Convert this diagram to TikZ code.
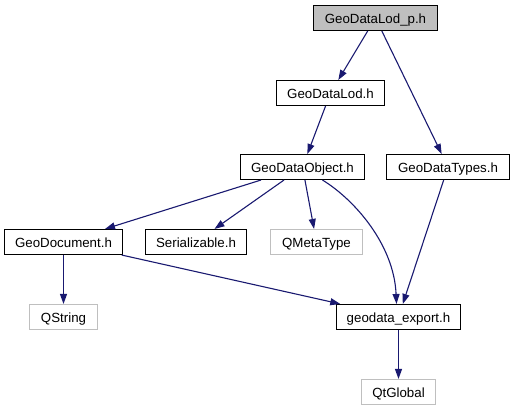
\documentclass[tikz,border=0pt]{standalone}
\usepackage{fontspec}
\setmainfont{Liberation Sans}
\usetikzlibrary{arrows.meta}
\definecolor{edgeblue}{RGB}{25,25,112}
\definecolor{lightborder}{RGB}{191,191,191}
\definecolor{topfill}{RGB}{191,191,191}
\tikzset{
  box/.style={draw=black, line width=1.1pt, fill=white, minimum height=25pt, inner sep=0pt,
    text height=10.5pt, text depth=0pt, font=\fontsize{13.3}{15}\selectfont},
  extbox/.style={box, draw=lightborder},
  topbox/.style={box, fill=topfill},
  dep/.style={draw=edgeblue, line width=1.1pt, -{Triangle[length=10pt,width=7pt]}, fill=none}
}
\begin{document}
\begin{tikzpicture}[x=1pt,y=-1pt]
\useasboundingbox (0,0) rectangle (515,411);
\node[topbox, minimum width=124pt] (lodp) at (375.5,18) {GeoDataLod\_p.h};
\node[box, minimum width=108pt] (lod) at (330.5,93) {GeoDataLod.h};
\node[box, minimum width=124pt] (obj) at (302.5,167) {GeoDataObject.h};
\node[box, minimum width=123pt] (types) at (448,167) {GeoDataTypes.h};
\node[box, minimum width=118pt] (doc) at (63.5,242) {GeoDocument.h};
\node[box, minimum width=101pt] (ser) at (196,242) {Serializable.h};
\node[extbox, minimum width=92pt] (qmeta) at (316.5,242) {QMetaType};
\node[extbox, minimum width=68pt] (qstring) at (63.5,317) {QString};
\node[box, minimum width=124pt] (export) at (398.5,317) {geodata\_export.h};
\node[extbox, minimum width=74pt] (qtglobal) at (398.5,392) {QtGlobal};

\draw[dep] (lodp) -- (lod);
\draw[dep] (lodp) -- (types);
\draw[dep] (lod) -- (obj);
\draw[dep] (obj) -- (doc);
\draw[dep] (obj) -- (ser);
\draw[dep] (obj) -- (qmeta);
\draw[dep] ([xshift=20pt]obj.south) .. controls (355,200) and (394,245) .. ([xshift=-2pt]export.north);
\draw[dep] (types) -- (export);
\draw[dep] (doc) -- (qstring);
\draw[dep] (doc) -- (export);
\draw[dep] (export) -- (qtglobal);
\end{tikzpicture}
\end{document}
